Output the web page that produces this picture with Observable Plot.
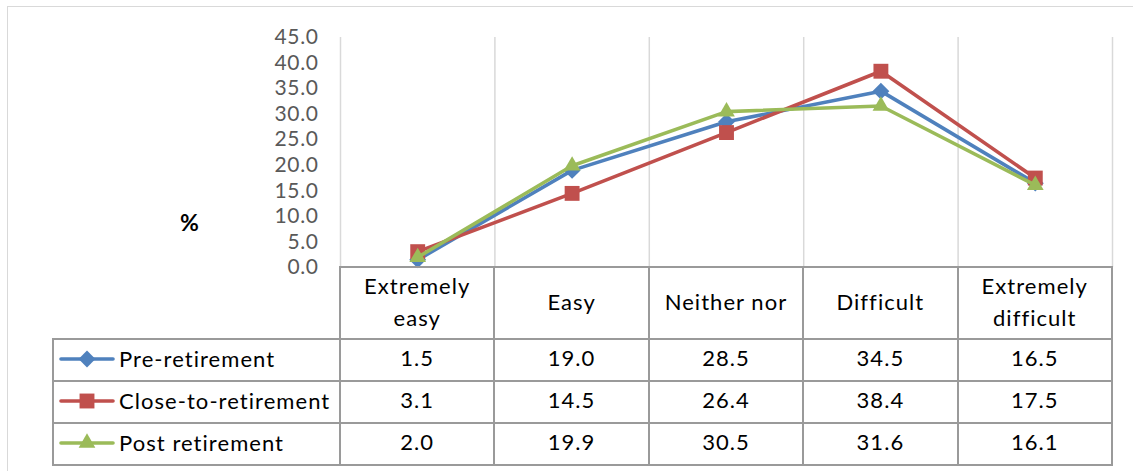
<!DOCTYPE html>
<html>
<head>
<meta charset="utf-8">
<script src="https://cdn.jsdelivr.net/npm/d3@7"></script>
<script src="https://cdn.jsdelivr.net/npm/@observablehq/plot@0.6"></script>
<style>
  html, body { margin: 0; padding: 0; background: #fff; overflow: hidden; }
  #wrap { position: relative; width: 1133px; height: 471px; font-family: Lato, "Open Sans", sans-serif; }
  #frame { position: absolute; left: 7px; top: 6px; width: 1300px; height: 700px; border: 1.5px solid #d9d9d9; }
  #chart { position: absolute; left: 0; top: 0; }
  #chart svg text { letter-spacing: 0.6px; }
  #pct { position: absolute; left: 180px; top: 208px; font-weight: bold; font-size: 23px; color: #000; }
  #table { position: absolute; border-collapse: collapse; table-layout: fixed; }
  #table td { border: 2px solid #9a9a9a; text-align: center; font-size: 22px; letter-spacing: 1.05px; color: #000; padding: 0; white-space: pre-line; line-height: 32px; }
  #table td.cat { padding-bottom: 3px; }
  #table td.val, #table td.name { padding-bottom: 4px; }
  #table td.blank { border-top: none; border-left: none; }
  #table td.name { text-align: left; padding-left: 5px; white-space: nowrap; }
  #table td.name svg { vertical-align: middle; margin-right: 4px; }
  #table td.name span { vertical-align: middle; }
</style>
</head>
<body>
<div id="wrap">
  <div id="frame"></div>
  <div id="chart"></div>
  <div id="pct">%</div>
</div>
<script>
// Survey response categories (header labels carry their line breaks)
const categories = ["Extremely easy", "Easy", "Neither nor", "Difficult", "Extremely difficult"];
const categoryLabels = ["Extremely\neasy", "Easy", "Neither nor", "Difficult", "Extremely\ndifficult"];

// Percentages per group
const preRetirement = [1.5, 19.0, 28.5, 34.5, 16.5];
const closeToRetirement = [3.1, 14.5, 26.4, 38.4, 17.5];
const postRetirement = [2.0, 19.9, 30.5, 31.6, 16.1];

const seriesNames = ["Pre-retirement", "Close-to-retirement", "Post retirement"];
const yTicks = [0, 5, 10, 15, 20, 25, 30, 35, 40, 45];

const series = [
  { name: seriesNames[0], values: preRetirement, color: "#4F81BD", symbol: "diamond2", r: 7.6 },
  { name: seriesNames[1], values: closeToRetirement, color: "#C0504D", symbol: "square", r: 8.4 },
  { name: seriesNames[2], values: postRetirement, color: "#9BBB59", symbol: "triangle", r: 6.2 }
];

const rows = series.flatMap(s => s.values.map((v, i) => ({ series: s.name, category: categories[i], i, v })));
const edges = d3.range(categories.length + 1).map(i => i - 0.5);

const marks = [
  Plot.ruleX(edges, { x: d => d, y1: 0, y2: 45, stroke: "#d9d9d9", strokeWidth: 1.5 })
];
for (const s of series) {
  const data = rows.filter(d => d.series === s.name);
  marks.push(
    Plot.line(data, { x: "i", y: "v", stroke: s.color, strokeWidth: 3.6, strokeLinejoin: "round", strokeLinecap: "round" }),
    Plot.dot(data, { x: "i", y: "v", symbol: s.symbol, r: s.r, fill: s.color, stroke: "none" })
  );
}

const chart = Plot.plot({
  width: 1133,
  height: 471,
  marginLeft: 340,
  marginRight: 21,
  marginTop: 37,
  marginBottom: 204,
  x: { domain: [-0.5, categories.length - 0.5], axis: null },
  y: { domain: [0, 45], ticks: yTicks, tickFormat: d => d.toFixed(1), tickSize: 0, tickPadding: 22, label: null },
  style: { fontFamily: "Lato, 'Open Sans', sans-serif", fontSize: "21px", color: "#595959", background: "transparent", overflow: "visible" },
  marks
});
document.getElementById("chart").appendChild(chart);

// Data table below the plot, columns aligned to the x scale
const xs = chart.scale("x");
const legendLeft = 53;
const colWidths = [xs.apply(-0.5) - legendLeft, ...categories.map((c, i) => xs.apply(i + 0.5) - xs.apply(i - 0.5))];

const table = d3.select("#wrap").append("table").attr("id", "table")
  .style("left", (legendLeft - 1) + "px")
  .style("top", "266px")
  .style("width", d3.sum(colWidths) + "px");
table.append("colgroup").selectAll("col").data(colWidths).join("col").style("width", d => d + "px");

const head = table.append("tr").style("height", "72px");
head.append("td").attr("class", "blank");
head.selectAll("td.cat").data(categoryLabels).join("td").attr("class", "cat").text(d => d);

const symbolTypes = { diamond2: d3.symbolDiamond2, square: d3.symbolSquare, triangle: d3.symbolTriangle };
for (const s of series) {
  const tr = table.append("tr").style("height", "42px");
  const cell = tr.append("td").attr("class", "name");
  const sw = cell.append("svg").attr("width", 56).attr("height", 22);
  sw.append("line").attr("x1", 2).attr("x2", 54).attr("y1", 11).attr("y2", 11)
    .attr("stroke", s.color).attr("stroke-width", 3.6).attr("stroke-linecap", "round");
  sw.append("path").attr("transform", "translate(28,11)")
    .attr("d", d3.symbol(symbolTypes[s.symbol], Math.PI * s.r * s.r)()).attr("fill", s.color);
  cell.append("span").text(s.name);
  tr.selectAll("td.val").data(s.values).join("td").attr("class", "val").text(d => d.toFixed(1));
}
</script>
</body>
</html>
